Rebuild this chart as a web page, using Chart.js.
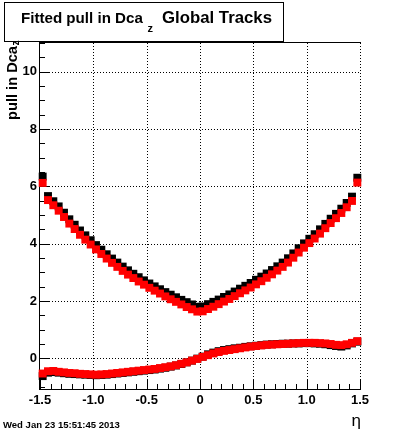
<!DOCTYPE html>
<html>
<head>
<meta charset="utf-8">
<script src="https://cdn.jsdelivr.net/npm/chart.js@4.4.1/dist/chart.umd.min.js"></script>
<style>
  body { margin: 0; background: #fff; }
  canvas { display: block; }
</style>
</head>
<body>
<canvas id="chart" width="400" height="433"></canvas>
<script>
// eta bin centres (60 bins, -1.5 .. 1.5)
const etaBins = [
  -1.475, -1.425, -1.375, -1.325, -1.275, -1.225, -1.175, -1.125, -1.075, -1.025,
  -0.975, -0.925, -0.875, -0.825, -0.775, -0.725, -0.675, -0.625, -0.575, -0.525,
  -0.475, -0.425, -0.375, -0.325, -0.275, -0.225, -0.175, -0.125, -0.075, -0.025,
  0.025, 0.075, 0.125, 0.175, 0.225, 0.275, 0.325, 0.375, 0.425, 0.475,
  0.525, 0.575, 0.625, 0.675, 0.725, 0.775, 0.825, 0.875, 0.925, 0.975,
  1.025, 1.075, 1.125, 1.175, 1.225, 1.275, 1.325, 1.375, 1.425, 1.475
];

// black: sigma of pull
const sigmaBlack = [
  6.34, 5.66, 5.48, 5.30, 5.08, 4.85, 4.66, 4.46, 4.29, 4.12,
  3.95, 3.79, 3.63, 3.48, 3.34, 3.20, 3.07, 2.95, 2.83, 2.72,
  2.61, 2.51, 2.41, 2.31, 2.22, 2.13, 2.04, 1.96, 1.88, 1.80,
  1.81, 1.89, 1.97, 2.05, 2.14, 2.23, 2.33, 2.43, 2.53, 2.63,
  2.74, 2.85, 2.96, 3.08, 3.21, 3.34, 3.49, 3.66, 3.84, 4.01,
  4.17, 4.33, 4.50, 4.69, 4.87, 5.04, 5.22, 5.42, 5.64, 6.30
];
// red: sigma of pull
const sigmaRed = [
  6.12, 5.52, 5.34, 5.15, 4.93, 4.70, 4.51, 4.31, 4.14, 3.97,
  3.80, 3.64, 3.48, 3.33, 3.19, 3.05, 2.92, 2.80, 2.68, 2.57,
  2.46, 2.36, 2.26, 2.16, 2.06, 1.97, 1.88, 1.79, 1.71, 1.63,
  1.64, 1.72, 1.80, 1.89, 1.98, 2.07, 2.17, 2.27, 2.37, 2.47,
  2.58, 2.69, 2.81, 2.93, 3.06, 3.19, 3.34, 3.51, 3.69, 3.86,
  4.02, 4.18, 4.35, 4.54, 4.72, 4.89, 5.07, 5.27, 5.49, 6.13
];
// black: mean of pull
const meanBlack = [
  -0.62, -0.50, -0.48, -0.50, -0.52, -0.54, -0.55, -0.56, -0.57, -0.58,
  -0.59, -0.58, -0.57, -0.55, -0.53, -0.51, -0.49, -0.47, -0.45, -0.43,
  -0.41, -0.39, -0.36, -0.33, -0.29, -0.25, -0.20, -0.14, -0.08, -0.01,
  0.06, 0.14, 0.20, 0.25, 0.29, 0.32, 0.35, 0.37, 0.40, 0.42,
  0.44, 0.46, 0.48, 0.49, 0.50, 0.51, 0.51, 0.52, 0.52, 0.53,
  0.53, 0.52, 0.51, 0.49, 0.46, 0.43, 0.41, 0.45, 0.52, 0.58
];
// red: mean of pull
const meanRed = [
  -0.53, -0.45, -0.44, -0.47, -0.49, -0.51, -0.52, -0.54, -0.55, -0.56,
  -0.57, -0.56, -0.55, -0.53, -0.51, -0.49, -0.47, -0.45, -0.43, -0.41,
  -0.39, -0.37, -0.34, -0.31, -0.28, -0.24, -0.19, -0.14, -0.08, -0.02,
  0.05, 0.11, 0.17, 0.22, 0.26, 0.29, 0.32, 0.35, 0.38, 0.41,
  0.43, 0.45, 0.47, 0.48, 0.49, 0.50, 0.51, 0.52, 0.53, 0.54,
  0.54, 0.54, 0.53, 0.52, 0.50, 0.47, 0.46, 0.49, 0.54, 0.60
];

const xTicks = [-1.5, -1, -0.5, 0, 0.5, 1, 1.5];
const yTicks = [0, 2, 4, 6, 8, 10];

const titleText = ["Fitted pull in Dca", "z", "Global Tracks"];
const yTitle = ["pull in Dca", "z"];
const xTitle = "\u03b7";
const dateText = "Wed Jan 23 15:51:45 2013";

const FONT = '"Liberation Sans", Arial, Helvetica, sans-serif';

function pts(ys){
  return etaBins.map((x, i) => ({ x: x, y: ys[i] }));
}

function markerSet(data, color){
  return {
    data: pts(data),
    showLine: false,
    pointStyle: 'rect',
    pointRadius: 5.6,
    pointHoverRadius: 5.6,
    pointBorderWidth: 0,
    backgroundColor: color,
    borderColor: color,
    clip: false
  };
}

// fit text to a target width
function fitFont(ctx, text, weight, size, width){
  ctx.font = weight + " " + size + "px " + FONT;
  const w = ctx.measureText(text).width;
  const s = size * width / w;
  ctx.font = weight + " " + s.toFixed(2) + "px " + FONT;
}

function hline(ctx, x1, x2, y){
  y = Math.round(y) + 0.5;
  ctx.beginPath(); ctx.moveTo(x1, y); ctx.lineTo(x2, y); ctx.stroke();
}
function vline(ctx, x, y1, y2){
  x = Math.round(x) + 0.5;
  ctx.beginPath(); ctx.moveTo(x, y1); ctx.lineTo(x, y2); ctx.stroke();
}

const rootFrame = {
  id: 'rootFrame',
  beforeDatasetsDraw(chart){
    const ctx = chart.ctx;
    const a = chart.chartArea;
    const xs = chart.scales.x, ys = chart.scales.y;
    ctx.save();
    ctx.strokeStyle = '#000';
    ctx.lineWidth = 1;

    // dotted grid
    ctx.setLineDash([1, 2]);
    xTicks.forEach(v => {
      if (v === -1.5) return;
      vline(ctx, xs.getPixelForValue(v), a.top, a.bottom);
    });
    yTicks.forEach(v => hline(ctx, a.left, a.right, ys.getPixelForValue(v)));
    ctx.setLineDash([]);

    // frame: left, bottom, top
    vline(ctx, a.left - 1, a.top, a.bottom + 1);
    hline(ctx, a.left - 1, a.right + 1, a.bottom);
    hline(ctx, a.left - 1, a.right + 1, a.top - 1);

    // y ticks inside frame
    for (let k = -2; k <= 22; k++){
      const v = k * 0.5;
      if (v < ys.min || v > ys.max) continue;
      const len = (k % 4 === 0) ? 10 : 5;
      hline(ctx, a.left, a.left + len, ys.getPixelForValue(v));
    }
    // x ticks inside frame
    for (let k = -15; k <= 15; k++){
      const v = k / 10;
      const len = (k % 5 === 0) ? 10 : 5;
      vline(ctx, xs.getPixelForValue(v), a.bottom - len, a.bottom);
    }
    ctx.restore();
  },
  afterDraw(chart){
    const ctx = chart.ctx;
    ctx.save();
    ctx.fillStyle = '#000';
    ctx.strokeStyle = '#000';
    ctx.lineWidth = 1;

    // title box
    ctx.fillStyle = '#fff';
    ctx.fillRect(5, 2, 279, 40);
    ctx.strokeRect(4.5, 2.5, 279, 39);
    ctx.fillStyle = '#000';
    ctx.textBaseline = 'alphabetic';
    ctx.textAlign = 'left';
    fitFont(ctx, titleText[0], 'bold', 16, 122);
    ctx.fillText(titleText[0], 21, 23);
    ctx.font = 'bold 11px ' + FONT;
    ctx.fillText(titleText[1], 147.5, 32);
    fitFont(ctx, titleText[2], 'bold', 16, 110);
    ctx.fillText(titleText[2], 162, 23);

    // y title (rotated)
    ctx.save();
    ctx.translate(17, 46);
    ctx.rotate(-Math.PI / 2);
    ctx.textAlign = 'right';
    fitFont(ctx, yTitle[0], 'bold', 14, 74);
    ctx.fillText(yTitle[0], 0, 0);
    ctx.textAlign = 'left';
    ctx.font = 'bold 10px ' + FONT;
    ctx.fillText(yTitle[1], 0.5, 2);
    ctx.restore();

    // x title
    ctx.textAlign = 'right';
    ctx.font = '17px ' + FONT;
    ctx.fillText(xTitle, 361, 426);

    // date stamp
    ctx.textAlign = 'left';
    fitFont(ctx, dateText, 'bold', 8, 117);
    ctx.fillText(dateText, 3, 428);
    ctx.restore();
  }
};

const ctx = document.getElementById("chart").getContext("2d");

const chart = new Chart(ctx, {
  type: 'scatter',
  data: {
    datasets: [
      markerSet(sigmaRed, '#ff0000'),
      markerSet(meanRed, '#ff0000'),
      markerSet(sigmaBlack, '#000000'),
      markerSet(meanBlack, '#000000')
    ]
  },
  options: {
    responsive: false,
    animation: false,
    devicePixelRatio: 1,
    layout: { padding: { left: 0, right: 40, top: 43, bottom: 0 } },
    plugins: {
      legend: { display: false },
      tooltip: { enabled: false },
      title: { display: false }
    },
    scales: {
      x: {
        type: 'linear',
        min: -1.5,
        max: 1.5,
        afterFit(scale){ scale.height = 44; },
        grid: { display: false, drawTicks: false },
        border: { display: false },
        ticks: {
          stepSize: 0.5,
          autoSkip: false,
          maxRotation: 0,
          includeBounds: false,
          padding: 4,
          color: '#000',
          font: { family: FONT, size: 13, weight: 'bold' }
        }
      },
      y: {
        type: 'linear',
        min: -1.07,
        max: 11.0,
        afterFit(scale){ scale.width = 40; },
        grid: { display: false, drawTicks: false },
        border: { display: false },
        ticks: {
          stepSize: 2,
          autoSkip: false,
          includeBounds: false,
          padding: 3,
          color: '#000',
          font: { family: FONT, size: 13, weight: 'bold' }
        }
      }
    }
  },
  plugins: [rootFrame]
});
</script>
</body>
</html>
